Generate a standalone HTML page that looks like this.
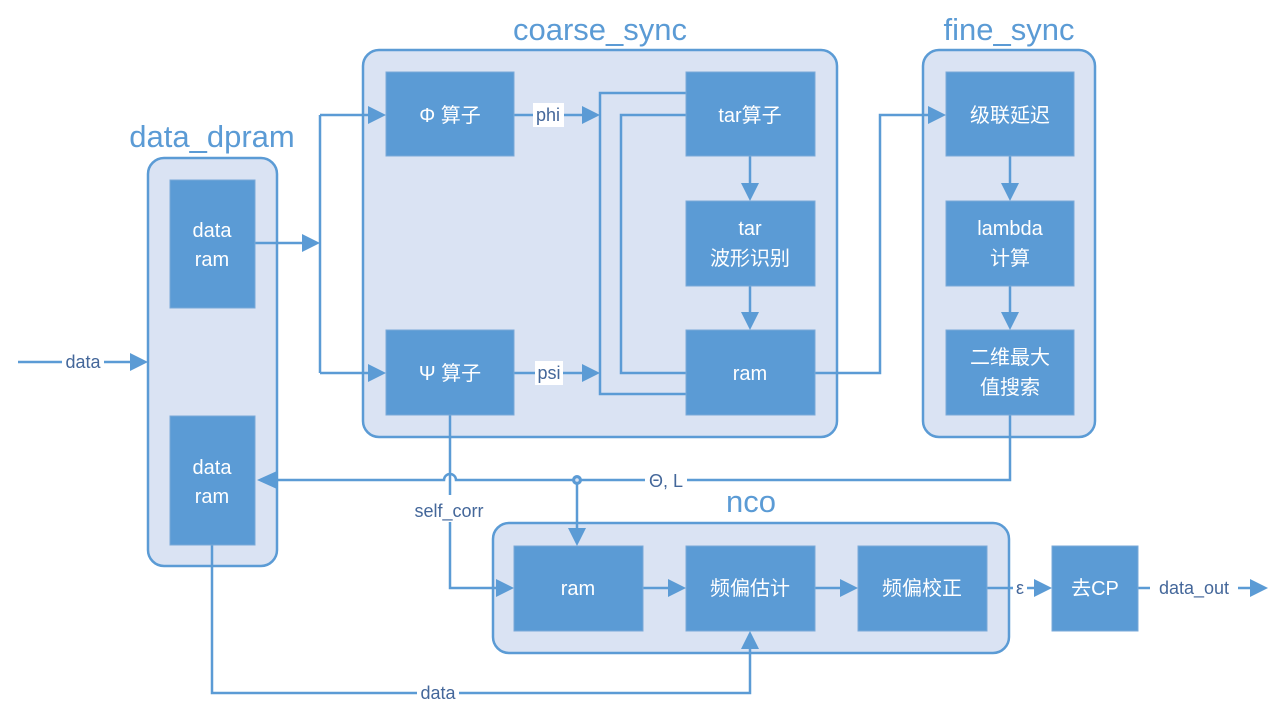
<!DOCTYPE html>
<html><head><meta charset="utf-8"><style>
html,body{margin:0;padding:0;background:#fff;}
svg{display:block;font-family:"Liberation Sans","Noto Sans CJK SC",sans-serif;}
.c{fill:#dae3f3;stroke:#5b9bd5;stroke-width:2.5;}
.b{fill:#5b9bd5;stroke:#7aa9d8;stroke-width:1;}
.l{fill:none;stroke:#5b9bd5;stroke-width:2.5;}
.t{fill:#fff;font-size:20px;text-anchor:middle;}
.h{fill:#5b9bd5;font-size:31px;text-anchor:middle;}
.s{fill:#44679a;font-size:18px;text-anchor:middle;}
.a{fill:#5b9bd5;}
</style></head><body>
<svg width="1283" height="718" viewBox="0 0 1283 718">
<rect class="c" x="148" y="158" width="129" height="408" rx="16"/>
<rect class="c" x="363" y="50" width="474" height="387" rx="16"/>
<rect class="c" x="923" y="50" width="172" height="387" rx="16"/>
<rect class="c" x="493" y="523" width="516" height="130" rx="16"/>
<text class="h" x="212" y="147">data_dpram</text>
<text class="h" x="600" y="40">coarse_sync</text>
<text class="h" x="1009" y="40">fine_sync</text>
<text class="h" x="751" y="512">nco</text>

<g class="l">
<path d="M18 362H135"/>
<path d="M255 243H305"/>
<path d="M320 115V373"/>
<path d="M320 115H372M320 373H372"/>
<path d="M514 115H585M514 373H585"/>
<path d="M686 93H600V394H686"/>
<path d="M686 115H621V373H686"/>
<path d="M750 156V188M750 286V317"/>
<path d="M815 373H880V115H933"/>
<path d="M1010 156V188M1010 286V317"/>
<path d="M1010 415V480H456A6 6 0 0 0 444 480H272"/>
<path d="M577 480V533"/>
<path d="M450 415V495M450 522V588H500"/>
<path d="M643 588H673M815 588H845M987 588H1038M1138 588H1255"/>
<path d="M212 545V693H750V646"/>
</g>
<g class="a">
<polygon points="148,362 130,353 130,371"/>
<polygon points="320,243 302,234 302,252"/>
<polygon points="386,115 368,106 368,124"/>
<polygon points="386,373 368,364 368,382"/>
<polygon points="600,115 582,106 582,124"/>
<polygon points="600,373 582,364 582,382"/>
<polygon points="750,201 741,183 759,183"/>
<polygon points="750,330 741,312 759,312"/>
<polygon points="946,115 928,106 928,124"/>
<polygon points="1010,201 1001,183 1019,183"/>
<polygon points="1010,330 1001,312 1019,312"/>
<polygon points="257,480 277,471 277,489"/>
<polygon points="577,546 568,528 586,528"/>
<polygon points="514,588 496,579 496,597"/>
<polygon points="686,588 668,579 668,597"/>
<polygon points="858,588 840,579 840,597"/>
<polygon points="1052,588 1034,579 1034,597"/>
<polygon points="1268,588 1250,579 1250,597"/>
<polygon points="750,631 741,649 759,649"/>
</g>
<circle cx="577" cy="480" r="5" fill="#5b9bd5"/>
<circle cx="577" cy="480" r="1.8" fill="#dae3f3"/>

<rect class="b" x="170" y="180" width="85" height="128"/>
<rect class="b" x="170" y="416" width="85" height="129"/>
<rect class="b" x="386" y="72" width="128" height="84"/>
<rect class="b" x="386" y="330" width="128" height="85"/>
<rect class="b" x="686" y="72" width="129" height="84"/>
<rect class="b" x="686" y="201" width="129" height="85"/>
<rect class="b" x="686" y="330" width="129" height="85"/>
<rect class="b" x="946" y="72" width="128" height="84"/>
<rect class="b" x="946" y="201" width="128" height="85"/>
<rect class="b" x="946" y="330" width="128" height="85"/>
<rect class="b" x="514" y="546" width="129" height="85"/>
<rect class="b" x="686" y="546" width="129" height="85"/>
<rect class="b" x="858" y="546" width="129" height="85"/>
<rect class="b" x="1052" y="546" width="86" height="85"/>

<text class="t" x="212" y="237">data</text><text class="t" x="212" y="266">ram</text>
<text class="t" x="212" y="474">data</text><text class="t" x="212" y="503">ram</text>
<text class="t" x="450" y="122">Φ 算子</text>
<text class="t" x="450" y="380">Ψ 算子</text>
<text class="t" x="750" y="122">tar算子</text>
<text class="t" x="750" y="235">tar</text><text class="t" x="750" y="265">波形识别</text>
<text class="t" x="750" y="380">ram</text>
<text class="t" x="1010" y="122">级联延迟</text>
<text class="t" x="1010" y="235">lambda</text><text class="t" x="1010" y="265">计算</text>
<text class="t" x="1010" y="364">二维最大</text><text class="t" x="1010" y="394">值搜索</text>
<text class="t" x="578" y="595">ram</text>
<text class="t" x="750" y="595">频偏估计</text>
<text class="t" x="922" y="595">频偏校正</text>
<text class="t" x="1095" y="595">去CP</text>

<rect x="533" y="103" width="31" height="24" fill="#fff"/>
<text class="s" x="548" y="121">phi</text>
<rect x="535" y="361" width="28" height="24" fill="#fff"/>
<text class="s" x="549" y="379">psi</text>
<rect x="62" y="352" width="42" height="20" fill="#fff"/>
<text class="s" x="83" y="368">data</text>
<text class="s" x="449" y="517">self_corr</text>
<rect x="645" y="470" width="42" height="20" fill="#fff"/>
<text class="s" x="666" y="487">Θ, L</text>
<rect x="1013" y="578" width="14" height="20" fill="#fff"/>
<text class="s" x="1020" y="594">ε</text>
<rect x="1150" y="578" width="88" height="20" fill="#fff"/>
<text class="s" x="1194" y="594">data_out</text>
<rect x="417" y="683" width="42" height="20" fill="#fff"/>
<text class="s" x="438" y="699">data</text>
</svg>
</body></html>
